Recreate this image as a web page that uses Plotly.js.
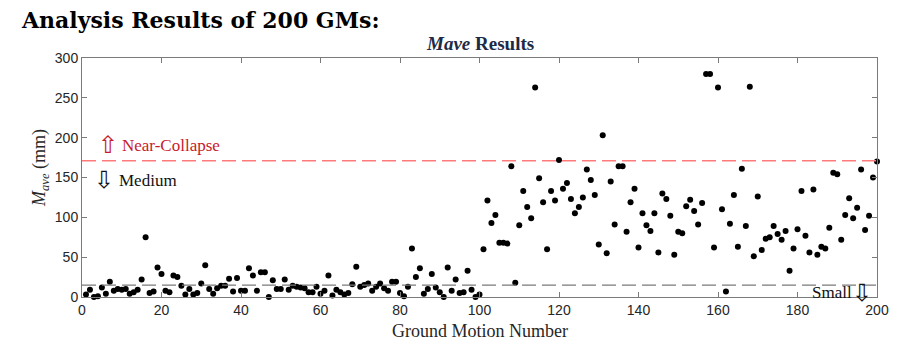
<!DOCTYPE html>
<html>
<head>
<meta charset="utf-8">
<script src="https://cdn.plot.ly/plotly-3.0.1.min.js"></script>
<style>html,body{margin:0;padding:0;background:#fff;}#chart{width:924px;height:347px;}</style>
</head>
<body>
<div id="chart"></div>
<script>
// Mave (mm) for ground motions 1..200
const maveValues = [
  3,9,0,1,12,4,19,8,10,9,
  10,4,6,9,22,75,5,7,37,29,
  8,6,27,25,14,3,10,3,5,17,
  40,10,4,11,14,14,23,7,24,8,
  8,36,27,8,31,31,0,21,10,10,
  22,9,14,13,12,11,6,6,13,4,
  8,27,2,9,6,3,5,16,38,13,
  15,17,8,13,17,11,8,19,19,5,
  1,13,61,25,36,4,10,29,12,6,
  0,37,8,22,5,6,33,9,0,3,
  60,121,93,103,68,68,67,164,18,90,
  133,113,99,263,149,119,60,133,121,172,
  136,143,123,105,113,125,160,147,128,66,
  203,55,145,91,164,164,82,119,136,62,
  105,90,83,105,56,130,123,102,53,82,
  80,114,122,108,91,118,280,280,62,263,
  110,7,92,128,63,161,89,264,51,126,
  59,73,75,89,79,72,83,33,61,85,
  133,77,56,135,53,63,61,87,156,154,
  72,103,124,99,112,160,84,102,150,170
];
const gmNumbers = maveValues.map((v, i) => i + 1);
const nearCollapseThreshold = 171;
const smallThreshold = 15;
const xTicks = [0, 20, 40, 60, 80, 100, 120, 140, 160, 180, 200];
const yTicks = [0, 50, 100, 150, 200, 250, 300];

const serif = '"Liberation Serif", "DejaVu Serif", serif';
const sans = '"Liberation Sans", Arial, sans-serif';
const arrowFont = (color) => ({family: '"DejaVu Sans", sans-serif', size: 24, color: color});

const trace = {
  x: gmNumbers, y: maveValues, type: 'scatter', mode: 'markers',
  marker: {color: '#000', size: 6}, hoverinfo: 'skip', cliponaxis: false
};

const axisCommon = {
  showline: true, linecolor: '#7a7a7a', linewidth: 1, mirror: 'ticks',
  ticks: 'inside', ticklen: 5, tickcolor: '#7a7a7a', showgrid: false, zeroline: false,
  tickfont: {family: sans, size: 14, color: '#262626'}
};

const px = (p) => (p - 82) / 795;
const py = (p) => (297 - p) / 239;

const layout = {
  width: 924, height: 347,
  margin: {l: 82, r: 47, t: 58, b: 50},
  paper_bgcolor: '#fff', plot_bgcolor: '#fff',
  showlegend: false,
  title: {text: '<b>Analysis Results of 200 GMs:</b>', x: 22/924, xanchor: 'left', xref: 'container',
          y: 1 - 20/347, yanchor: 'middle', yref: 'container',
          font: {family: '"DejaVu Serif", serif', size: 22, color: '#000'}},
  xaxis: Object.assign({}, axisCommon, {range: [0, 200], tickvals: xTicks, ticktext: xTicks.map(String)}),
  yaxis: Object.assign({}, axisCommon, {range: [0, 300], tickvals: yTicks, ticktext: yTicks.map(String)}),
  shapes: [
    {type: 'line', xref: 'paper', x0: 0, x1: 1, yref: 'y', y0: nearCollapseThreshold, y1: nearCollapseThreshold,
     line: {color: '#ff7a7a', width: 1.5, dash: '14px,6px'}},
    {type: 'line', xref: 'paper', x0: 0, x1: 1, yref: 'y', y0: smallThreshold, y1: smallThreshold,
     line: {color: '#7a7a7a', width: 1.2, dash: '14px,6px'}}
  ],
  annotations: [
    {text: '<i><b>Mave</b></i><b> Results</b>', xref: 'paper', yref: 'paper', x: 0.5, y: 1 + 15/239,
     xanchor: 'center', yanchor: 'middle', showarrow: false, font: {family: serif, size: 19, color: '#1c2a48'}},
    {text: 'Ground Motion Number', xref: 'paper', yref: 'paper', x: 0.5, y: -34/239,
     xanchor: 'center', yanchor: 'middle', showarrow: false, font: {family: serif, size: 18, color: '#262626'}},
    {text: '<i>M<sub>ave</sub></i> (mm)', xref: 'paper', yref: 'paper', x: -42/795, y: py(168), textangle: -90,
     xanchor: 'center', yanchor: 'middle', showarrow: false, font: {family: serif, size: 18, color: '#262626'}},
    {text: '⇧', xref: 'paper', yref: 'paper', x: px(108), y: py(145),
     xanchor: 'center', yanchor: 'middle', showarrow: false, font: arrowFont('#c8192c')},
    {text: 'Near-Collapse', xref: 'paper', yref: 'paper', x: px(120), y: py(145),
     xanchor: 'left', yanchor: 'middle', showarrow: false, font: {family: serif, size: 17, color: '#c8192c'}},
    {text: '⇩', xref: 'paper', yref: 'paper', x: px(104), y: py(180),
     xanchor: 'center', yanchor: 'middle', showarrow: false, font: arrowFont('#111')},
    {text: 'Medium', xref: 'paper', yref: 'paper', x: px(117), y: py(180),
     xanchor: 'left', yanchor: 'middle', showarrow: false, font: {family: serif, size: 17, color: '#111'}},
    {text: 'Small', xref: 'paper', yref: 'paper', x: px(854), y: py(292),
     xanchor: 'right', yanchor: 'middle', showarrow: false, font: {family: serif, size: 17, color: '#111'}},
    {text: '⇩', xref: 'paper', yref: 'paper', x: px(862), y: py(293),
     xanchor: 'center', yanchor: 'middle', showarrow: false, font: arrowFont('#111')}
  ]
};

Plotly.newPlot('chart', [trace], layout, {staticPlot: true, displayModeBar: false});
</script>
</body>
</html>
